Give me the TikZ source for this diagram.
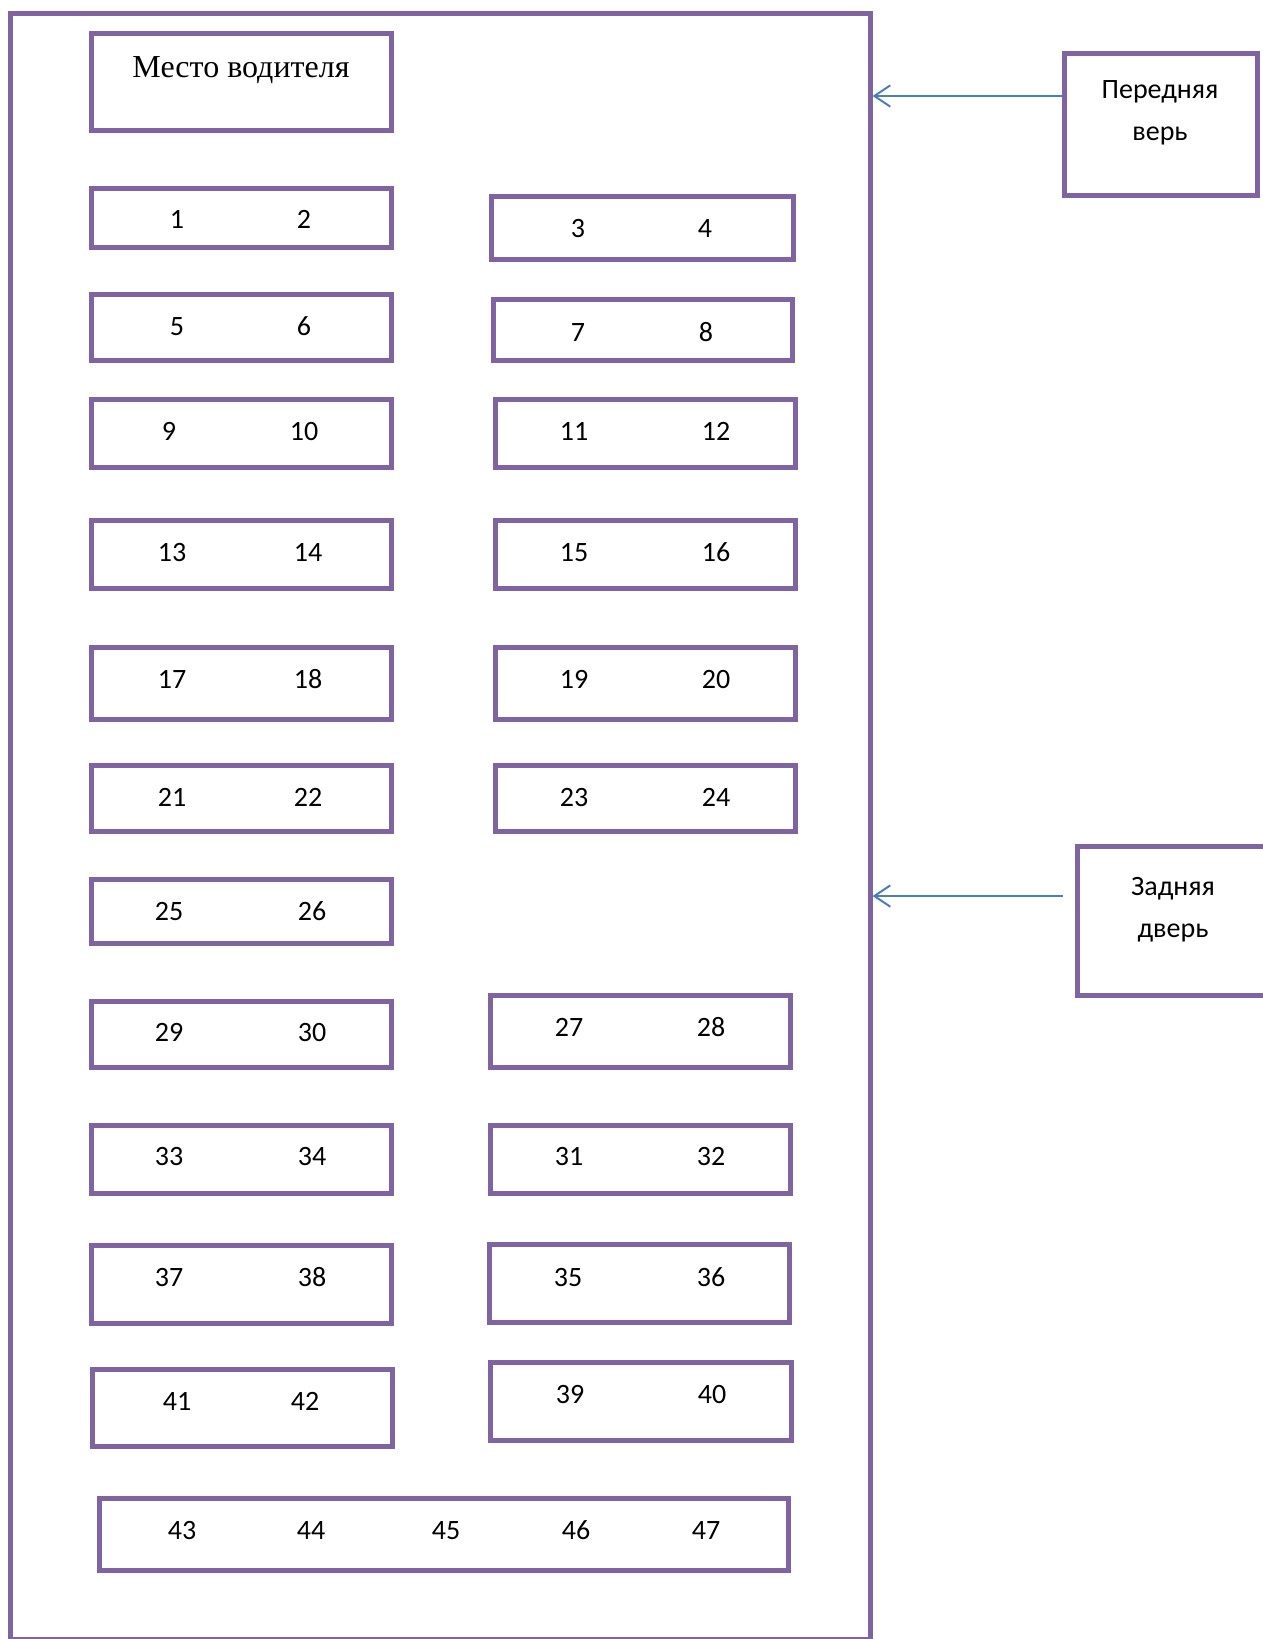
\documentclass[tikz,border=0pt]{standalone}
\usepackage{fontspec}
\setmainfont{Carlito}
\newfontfamily\driverfont{Liberation Serif}
\usetikzlibrary{positioning, arrows.meta}
\definecolor{seatborder}{RGB}{128,100,162}
\definecolor{doorblue}{RGB}{74,126,187}

\begin{document}
\begin{tikzpicture}
    [x=0.75pt, y=-0.75pt,
    seatbox/.style={rectangle, draw=seatborder, line width=3.75pt, inner sep=0pt},
    num/.style={inner sep=0pt, text height=13.5pt, text depth=0pt, font=\fontsize{21}{25}\selectfont},
    doortext/.style={inner sep=0pt, align=center, font=\fontsize{21}{31.5}\selectfont},
    arrow/.style={draw=doorblue, line width=1.5pt,
    -{Straight Barb[length=12pt, width=16pt, line width=1.5pt]}}]
    \useasboundingbox (0,0) rectangle (1263,1639);
    % bus body and driver
    \node [seatbox, minimum width=645pt, minimum height=1219.5pt] (bus) at (440,826) {};
    \node [seatbox, minimum width=225pt, minimum height=72.75pt] (driver) at (241,81.5) {};
    \node [inner sep=0pt, font=\driverfont\fontsize{24}{28}\selectfont] (drivertext) at (241,70)
    {Место водителя};
    % seat rows: left, top, right, bottom, first seat, its x, second seat, its x, text y
    \foreach \xa/\ya/\xb/\yb/\na/\ta/\nb/\tb/\ty in {
      91/188/391/247/1/177/2/304/219, 491/196/793/259/3/578/4/705/228,
      91/294/391/360/5/177/6/304/326, 493/299/792/360/7/578/8/706/332,
      91/399/391/467/9/169/10/304/431, 495/399/795/467/11/574/12/716/431,
      91/520/391/588/13/172/14/308/552, 495/520/795/588/15/574/16/716/552,
      91/647/391/719/17/172/18/308/679, 495/647/795/719/19/574/20/716/679,
      91/765/391/831/21/172/22/308/797, 495/765/795/831/23/574/24/716/797,
      91/879/391/943/25/169/26/312/911,
      91/1001/391/1067/29/169/30/312/1032, 490/995/790/1067/27/569/28/711/1027,
      91/1125/391/1193/33/169/34/312/1156, 490/1125/790/1193/31/569/32/711/1156,
      91/1245/391/1323/37/169/38/312/1277, 489/1244/789/1322/35/568/36/711/1277,
      92/1369/392/1446/41/177/42/305/1401, 490/1362/791/1440/39/570/40/712/1394} {
      \node [seatbox, minimum width={(\xb-\xa)*0.75pt}, minimum height={(\yb-\ya)*0.75pt}]
      (seat\na) at ({(\xa+\xb)/2},{(\ya+\yb)/2}) {};
      \node [num] (lbl\na) at (\ta,\ty) {\na};
      \node [num] (lbl\nb) at (\tb,\ty) {\nb};
    }
    % back bench
    \node [seatbox, minimum width=516.75pt, minimum height=54pt] (bench) at (443.5,1534) {};
    \foreach \n/\x in {43/182, 44/311, 45/446, 46/576, 47/706}
      \node [num] (lbl\n) at (\x,1530) {\n};
    % doors
    \node [seatbox, minimum width=144.75pt, minimum height=106.5pt] (frontdoor) at (1160.5,124) {};
    \node [doortext] (fronttext) at (1160,113) {Передняя\\верь};
    \node [seatbox, minimum width=144.75pt, minimum height=111.75pt] (backdoor) at (1173.5,920.5) {};
    \node [doortext] (backtext) at (1173,909.5) {Задняя\\дверь};
    \coordinate (backstart) at (1063,896);

    \draw [arrow] (frontdoor.west |- 0,96) -- (bus.east |- 0,96);
    \draw [arrow] (backstart) -- (bus.east |- backstart);
\end{tikzpicture}
\end{document}
